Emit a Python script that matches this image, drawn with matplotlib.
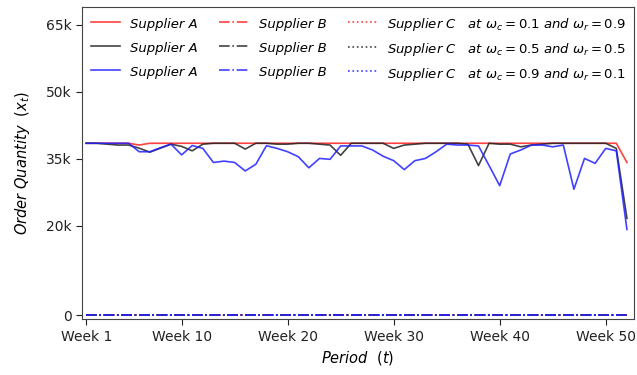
import numpy as np
import matplotlib
matplotlib.use("Agg")
import matplotlib.pyplot as plt

weeks = np.arange(1, 53)

# Supplier A order quantities (thousands) for three weight settings
a_red = [38.5, 38.5, 38.5, 38.5, 38.5, 38.1, 38.5, 38.5, 38.5, 38.5,
         38.5, 38.5, 38.5, 38.5, 38.5, 38.5, 38.5, 38.5, 38.5, 38.5,
         38.5, 38.5, 38.5, 38.5, 38.5, 38.5, 38.5, 38.5, 38.5, 38.5,
         38.5, 38.5, 38.5, 38.5, 38.5, 38.5, 38.5, 38.5, 38.5, 38.5,
         38.5, 38.5, 38.5, 38.5, 38.5, 38.5, 38.5, 38.5, 38.5, 38.5,
         38.5, 34.2]
a_black = [38.5, 38.5, 38.3, 38.1, 38.1, 37.4, 36.5, 37.4, 38.3, 37.8,
           36.8, 38.3, 38.5, 38.5, 38.5, 37.2, 38.5, 38.5, 38.3, 38.3,
           38.5, 38.5, 38.3, 38.1, 35.8, 38.5, 38.5, 38.5, 38.5, 37.35,
           38.1, 38.3, 38.5, 38.5, 38.5, 38.5, 38.3, 33.5, 38.5, 38.3,
           38.3, 37.7, 38.1, 38.3, 38.5, 38.5, 38.5, 38.5, 38.5, 38.5,
           37.35, 21.7]
a_blue = [38.5, 38.5, 38.5, 38.5, 38.5, 36.6, 36.6, 37.5, 38.3, 35.9,
          38.0, 37.35, 34.2, 34.5, 34.2, 32.3, 33.8, 37.95, 37.35, 36.6,
          35.5, 33.0, 35.1, 34.9, 37.9, 37.9, 37.9, 37.0, 35.6, 34.6,
          32.6, 34.6, 35.1, 36.6, 38.3, 38.1, 38.1, 37.9, 33.5, 29.0,
          36.1, 37.0, 38.1, 38.1, 37.7, 38.1, 28.2, 35.1, 34.0, 37.35,
          36.8, 19.2]
b_vals = [0.0] * 52
c_vals = [0.0] * 52

colors = ["#ff2020", "#222222", "#2020ff"]
weight_labels = [r"at $\omega_c = 0.1$ $and$ $\omega_r = 0.9$",
                 r"at $\omega_c = 0.5$ $and$ $\omega_r = 0.5$",
                 r"at $\omega_c = 0.9$ $and$ $\omega_r = 0.1$"]
y_ticks = [0, 20000, 35000, 50000, 65000]
y_tick_labels = ["0", "20k", "35k", "50k", "65k"]
x_ticks = [1, 10, 20, 30, 40, 50]
x_tick_labels = ["Week 1", "Week 10", "Week 20", "Week 30", "Week 40", "Week 50"]

fig = plt.figure(figsize=(6.37, 3.75), dpi=100)
ax = fig.add_axes([0.129, 0.149, 0.866, 0.832])

a_series = [a_red, a_black, a_blue]
hA, hB, hC = [], [], []
for col, a, wl in zip(colors, a_series, weight_labels):
    la, = ax.plot(weeks, np.array(a) * 1000, color=col, lw=1.2, alpha=0.85,
                  label="Supplier A")
    lb, = ax.plot(weeks, np.array(b_vals) * 1000, color=col, lw=1.2, ls="-.",
                  alpha=0.85, label="Supplier B")
    lc, = ax.plot(weeks, np.array(c_vals) * 1000, color=col, lw=1.2, ls=":",
                  alpha=0.85, label="Supplier C   " + wl)
    hA.append(la); hB.append(lb); hC.append(lc)

handles = hA + hB + hC
leg = ax.legend(handles=handles, labels=[h.get_label() for h in handles],
                ncol=3, loc="upper left", frameon=False,
                prop={"style": "italic", "size": 9.5},
                bbox_to_anchor=(0.0, 1.0), columnspacing=1.6,
                handlelength=2.2, handleheight=1.6,
                borderaxespad=0.25, labelspacing=0.52)

ax.set_xlim(0.62, 52.65)
ax.set_ylim(-900, 69000)
ax.set_yticks(y_ticks)
ax.set_yticklabels(y_tick_labels, fontsize=10)
ax.set_xticks(x_ticks)
ax.set_xticklabels(x_tick_labels, fontsize=10)
ax.set_xlabel(r"Period  $(t)$", fontsize=10.5, style="italic")
ax.set_ylabel(r"Order Quantity  $(x_t)$", fontsize=10.5, style="italic",
              labelpad=10)
for s in ax.spines.values():
    s.set_color("#444444")
ax.tick_params(colors="#222222", length=4)

fig.savefig("out.png", dpi=100)
